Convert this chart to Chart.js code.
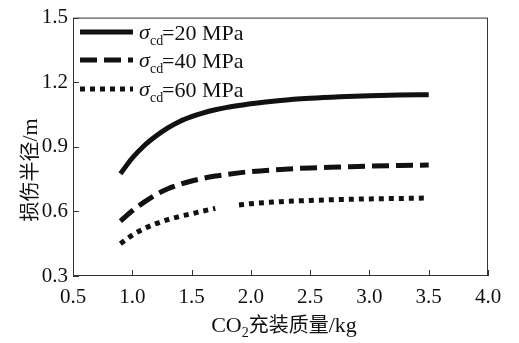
<!DOCTYPE html>
<html>
<head>
<meta charset="utf-8">
<script src="https://cdn.jsdelivr.net/npm/chart.js@4/dist/chart.umd.min.js"></script>
<style>
  html, body { margin: 0; padding: 0; background: #fff; }
  #wrap { width: 519px; height: 343px; }
</style>
</head>
<body>
<div id="wrap"><canvas id="myChart" width="519" height="343"></canvas></div>
<script>
// CO2 charge mass (kg)
var xMass = [0.9, 1.0, 1.1, 1.2, 1.3, 1.4, 1.5, 1.6, 1.7, 1.8, 1.9, 2.0, 2.25, 2.5, 2.75, 3.0, 3.25, 3.5];
// damage radius (m) for each confining stress
var r20 = [0.775, 0.848, 0.905, 0.95, 0.988, 1.018, 1.04, 1.058, 1.072, 1.083, 1.092, 1.10, 1.115, 1.125, 1.132, 1.137, 1.14, 1.142];
var r40 = [0.555, 0.603, 0.643, 0.678, 0.705, 0.725, 0.741, 0.754, 0.764, 0.772, 0.779, 0.785, 0.795, 0.802, 0.806, 0.81, 0.813, 0.815];
var r60 = [0.45, 0.49, 0.52, 0.543, 0.562, 0.577, 0.589, 0.602, 0.614, null, 0.63, 0.636, 0.645, 0.651, 0.655, 0.658, 0.66, 0.662];
var seriesNames = ['20 MPa', '40 MPa', '60 MPa'];
var xTicks = [0.5, 1.0, 1.5, 2.0, 2.5, 3.0, 3.5, 4.0];
var yTicks = [0.3, 0.6, 0.9, 1.2, 1.5];

function pts(ys) {
  return xMass.map(function (x, i) { return { x: x, y: ys[i] }; });
}

var dashes = [[], [17, 7], [5, 5]];
var serif = '"Liberation Serif", "DejaVu Serif", serif';
var cjk = '"Noto Sans CJK SC", sans-serif';

var data = {
  datasets: [r20, r40, r60].map(function (ys, i) {
    return {
      label: seriesNames[i],
      data: pts(ys),
      borderColor: '#111',
      borderWidth: 5,
      borderDash: dashes[i],
      borderCapStyle: 'butt',
      pointRadius: 0,
      cubicInterpolationMode: 'monotone',
      spanGaps: false,
      fill: false
    };
  })
};

// frame, inward ticks, legend and axis titles
var decor = {
  id: 'decor',
  afterDraw: function (chart) {
    var ctx = chart.ctx, a = chart.chartArea;
    var xs = chart.scales.x, ys = chart.scales.y;
    ctx.save();
    ctx.strokeStyle = '#333';
    ctx.lineWidth = 1;
    ctx.strokeRect(a.left + 0.5, a.top + 0.5, a.right - a.left - 1, a.bottom - a.top - 1);
    ctx.beginPath();
    xTicks.forEach(function (v) {
      var px = Math.round(xs.getPixelForValue(v)) + 0.5;
      ctx.moveTo(px, a.bottom);
      ctx.lineTo(px, a.bottom - 6);
    });
    yTicks.forEach(function (v) {
      var py = Math.round(ys.getPixelForValue(v)) + 0.5;
      ctx.moveTo(a.left, py);
      ctx.lineTo(a.left + 6, py);
    });
    ctx.stroke();

    // legend
    var rows = [32, 60, 89];
    ctx.fillStyle = '#111';
    ctx.textBaseline = 'alphabetic';
    chart.data.datasets.forEach(function (ds, i) {
      var y = rows[i];
      ctx.beginPath();
      ctx.strokeStyle = '#111';
      ctx.lineWidth = 5;
      ctx.lineCap = 'butt';
      ctx.setLineDash(dashes[i]);
      ctx.moveTo(80, y);
      ctx.lineTo(133, y);
      ctx.stroke();
      ctx.setLineDash([]);
      ctx.textAlign = 'left';
      ctx.font = 'italic 22px ' + serif;
      ctx.fillText('\u03c3', 139, y + 7);
      ctx.font = '14px ' + serif;
      ctx.fillText('cd', 150, y + 13);
      ctx.font = '22px ' + serif;
      ctx.fillText('=' + ds.label, 162, y + 8);
    });

    // x title
    var parts = [['CO', '22px ' + serif, 0], ['2', '14px ' + serif, 5], ['\u5145\u88c5\u8d28\u91cf', '20px ' + cjk, 0], ['/kg', '22px ' + serif, 0]];
    var total = 0;
    parts.forEach(function (p) { ctx.font = p[1]; total += ctx.measureText(p[0]).width; });
    var x = 284 - total / 2;
    parts.forEach(function (p) {
      ctx.font = p[1];
      ctx.fillText(p[0], x, 332 + p[2]);
      x += ctx.measureText(p[0]).width;
    });

    // y title
    ctx.translate(37, 170);
    ctx.rotate(-Math.PI / 2);
    var yparts = [['\u635f\u4f24\u534a\u5f84', '20px ' + cjk], ['/m', '22px ' + serif]];
    total = 0;
    yparts.forEach(function (p) { ctx.font = p[1]; total += ctx.measureText(p[0]).width; });
    x = -total / 2;
    yparts.forEach(function (p) {
      ctx.font = p[1];
      ctx.fillText(p[0], x, 0);
      x += ctx.measureText(p[0]).width;
    });
    ctx.restore();
  }
};

var options = {
  responsive: false,
  animation: false,
  layout: { padding: { top: 16, right: 31, left: 0, bottom: 0 } },
  plugins: { legend: { display: false }, tooltip: { enabled: false } },
  scales: {
    x: {
      type: 'linear',
      min: 0.5,
      max: 4.0,
      afterBuildTicks: function (s) { s.ticks = xTicks.map(function (v) { return { value: v }; }); },
      afterFit: function (s) { s.height = 343 - 276; },
      grid: { display: false, drawTicks: false },
      border: { display: false },
      ticks: {
        color: '#111',
        padding: 9,
        maxRotation: 0,
        font: { family: serif, size: 21 },
        callback: function (v) { return Number(v).toFixed(1); }
      }
    },
    y: {
      min: 0.3,
      max: 1.5,
      afterBuildTicks: function (s) { s.ticks = yTicks.map(function (v) { return { value: v }; }); },
      afterFit: function (s) { s.width = 73; },
      grid: { display: false, drawTicks: false },
      border: { display: false },
      ticks: {
        color: '#111',
        padding: 5,
        font: { family: serif, size: 21 },
        callback: function (v) { return Number(v).toFixed(1); }
      }
    }
  }
};

new Chart('myChart', {
  type: 'line',
  data: data,
  options: options,
  plugins: [decor]
});
</script>
</body>
</html>
